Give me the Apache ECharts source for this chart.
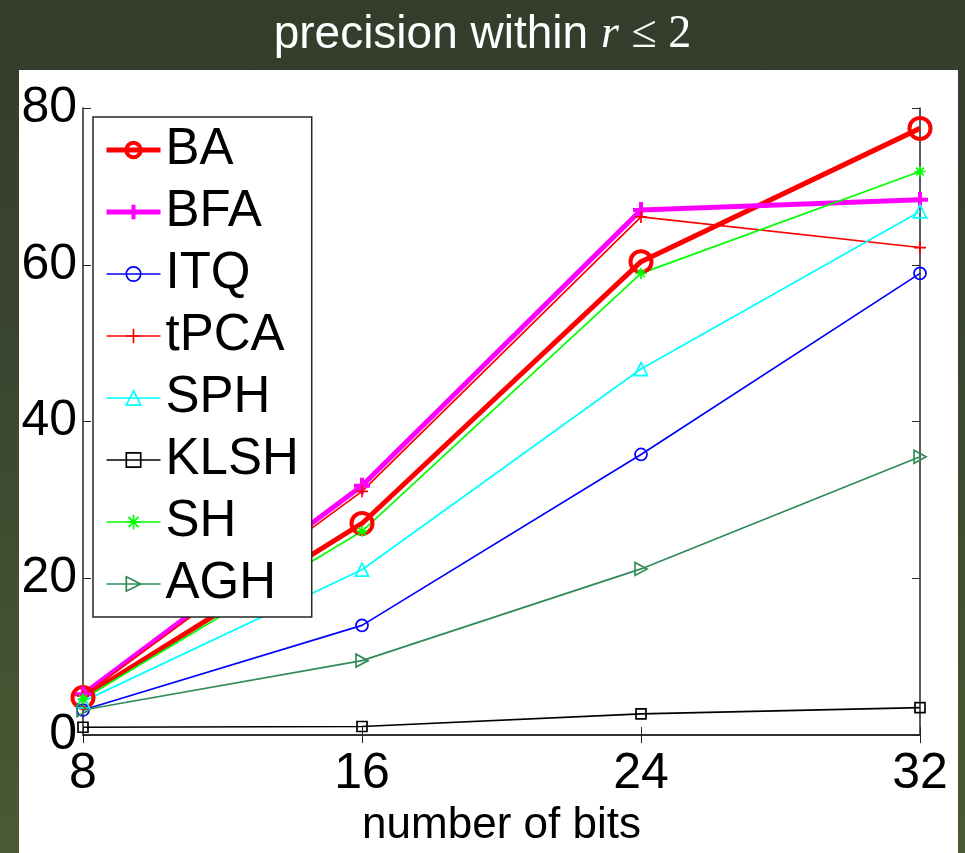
<!DOCTYPE html>
<html>
<head>
<meta charset="utf-8">
<script src="https://cdn.jsdelivr.net/npm/echarts@6/dist/echarts.min.js"></script>
<style>
  html, body { margin: 0; padding: 0; }
  body {
    width: 965px; height: 853px; overflow: hidden; position: relative;
    background: linear-gradient(to bottom, #343c2b 0%, #3a4530 40%, #4a5a32 100%);
  }
  #panel { position: absolute; left: 19px; top: 70px; width: 939px; height: 783px; background: #fff; }
  #chart { position: absolute; left: 0; top: 0; width: 965px; height: 853px; }
</style>
</head>
<body>
<div id="panel"></div>
<div id="chart"></div>
<script>
// Number of bits on the x axis
const bits = [8, 16, 24, 32];
const xTicks = [8, 16, 24, 32];
const yTicks = [0, 20, 40, 60, 80];

// Precision (%) within Hamming radius 2, per method
const names = ['BA', 'BFA', 'ITQ', 'tPCA', 'SPH', 'KLSH', 'SH', 'AGH'];
const BA   = [4.8, 27.0, 60.4, 77.4];
const BFA  = [5.2, 31.8, 67.0, 68.3];
const ITQ  = [3.2, 14.0, 35.8, 58.9];
const tPCA = [5.0, 31.1, 66.1, 62.2];
const SPH  = [4.3, 21.1, 46.7, 66.8];
const KLSH = [1.0, 1.1, 2.7, 3.5];
const SH   = [4.6, 26.0, 58.9, 71.9];
const AGH  = [3.2, 9.5, 21.2, 35.5];

const values = { BA, BFA, ITQ, tPCA, SPH, KLSH, SH, AGH };

const PLUS = 'path://M5,0L5,10M0,5L10,5';
const STAR = 'path://M5,0L5,10M0,5L10,5M1.5,1.5L8.5,8.5M1.5,8.5L8.5,1.5';
const RTRI = 'path://M0,0L10,5L0,10Z';

const styles = {
  BA:   { color: '#ff0000', width: 5,   symbol: 'circle',   size: 21, bw: 4 },
  BFA:  { color: '#ff00ff', width: 5,   symbol: PLUS,       size: 16, bw: 4 },
  ITQ:  { color: '#0000ff', width: 1.7, symbol: 'circle',   size: 12, bw: 1.7 },
  tPCA: { color: '#ff0000', width: 1.7, symbol: PLUS,       size: 12, bw: 1.7 },
  SPH:  { color: '#00ffff', width: 1.7, symbol: 'triangle', size: 13, bw: 1.7 },
  KLSH: { color: '#000000', width: 1.7, symbol: 'rect',     size: 10, bw: 1.7 },
  SH:   { color: '#00ff00', width: 1.7, symbol: STAR,       size: 11, bw: 1.7 },
  AGH:  { color: '#2e8b57', width: 1.7, symbol: RTRI,       size: [12, 13], bw: 1.7 }
};

const series = names.map(function (n) {
  const s = styles[n];
  return {
    name: n,
    type: 'line',
    data: bits.map(function (b, i) { return [b, values[n][i]]; }),
    symbol: s.symbol,
    symbolSize: s.size,
    showAllSymbol: true,
    clip: false,
    lineStyle: { color: s.color, width: s.width },
    itemStyle: { color: 'rgba(255,255,255,0)', borderColor: s.color, borderWidth: s.bw },
    emphasis: { disabled: true }
  };
});

// Legend entries keep each method's own line and marker weight
const legendData = names.map(function (n) {
  const s = styles[n];
  return {
    name: n,
    lineStyle: { color: s.color, width: s.width },
    itemStyle: { color: 'rgba(255,255,255,0)', borderColor: s.color, borderWidth: s.bw }
  };
});

const axisLine = { show: true, lineStyle: { color: '#262626', width: 1.5 } };
const tick = { show: true, inside: true, length: 8, lineStyle: { color: '#262626', width: 1 } };
const font = 'Liberation Sans, Arial, Helvetica, sans-serif';
const serif = 'Liberation Serif, DejaVu Serif, serif';

const chart = echarts.init(document.getElementById('chart'), null, { renderer: 'canvas' });
chart.setOption({
  animation: false,
  backgroundColor: 'transparent',
  title: {
    text: 'precision within {r|r} {m|≤ 2}',
    left: 'center',
    top: 7,
    textStyle: {
      color: '#ffffff', fontSize: 46, fontWeight: 'normal', fontFamily: font,
      rich: {
        r: { color: '#ffffff', fontSize: 46, fontStyle: 'italic', fontFamily: serif },
        m: { color: '#ffffff', fontSize: 46, fontFamily: serif }
      }
    }
  },
  grid: { left: 83, right: 45, top: 108, bottom: 109, containLabel: false },
  legend: {
    data: legendData,
    orient: 'vertical',
    left: 93, top: 117,
    padding: [7.5, 13, 7.5, 11],
    itemGap: 11,
    itemWidth: 54,
    itemHeight: 18,
    backgroundColor: '#ffffff',
    borderColor: '#262626',
    borderWidth: 1.5,
    textStyle: { color: '#000', fontSize: 51, lineHeight: 51, fontFamily: font },
    selectedMode: false
  },
  xAxis: [{
    type: 'value', min: xTicks[0], max: xTicks[xTicks.length - 1], interval: 8,
    name: 'number of bits', nameLocation: 'middle', nameGap: 58,
    nameTextStyle: { color: '#000', fontSize: 44, fontFamily: font },
    axisLine: axisLine, axisTick: tick,
    axisLabel: { color: '#000', fontSize: 50, fontFamily: font, margin: 14 },
    splitLine: { show: false }
  }, {
    type: 'value', position: 'top', min: xTicks[0], max: xTicks[xTicks.length - 1], interval: 8,
    axisLine: axisLine, axisTick: tick, axisLabel: { show: false }, splitLine: { show: false }
  }],
  yAxis: [{
    type: 'value', min: yTicks[0], max: yTicks[yTicks.length - 1], interval: 20,
    axisLine: axisLine, axisTick: tick,
    axisLabel: { color: '#000', fontSize: 50, fontFamily: font, margin: 6 },
    splitLine: { show: false }
  }, {
    type: 'value', position: 'right', min: yTicks[0], max: yTicks[yTicks.length - 1], interval: 20,
    axisLine: axisLine, axisTick: tick, axisLabel: { show: false }, splitLine: { show: false }
  }],
  series: series
});
</script>
</body>
</html>
